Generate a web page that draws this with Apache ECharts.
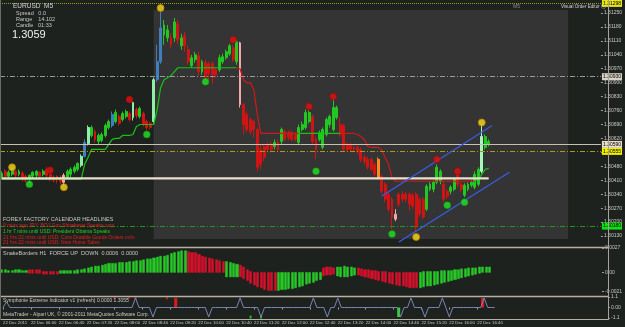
<!DOCTYPE html>
<html>
<head>
<meta charset="utf-8">
<script src="https://cdn.jsdelivr.net/npm/echarts@6/dist/echarts.min.js"></script>
<style>
  html, body { margin: 0; padding: 0; background: #1e221e; }
  #chart { width: 625px; height: 327px; }
</style>
</head>
<body>
<div id="chart"></div>
<script>
// ---- data ----
const timeLabels = ['22 Dec 2011', '22 Dec 06:00', '22 Dec 06:40', '22 Dec 07:20', '22 Dec 08:00', '22 Dec 08:40',
  '22 Dec 09:20', '22 Dec 10:00', '22 Dec 10:40', '22 Dec 11:20', '22 Dec 12:00', '22 Dec 12:40',
  '22 Dec 13:20', '22 Dec 14:00', '22 Dec 14:40', '22 Dec 15:20', '22 Dec 16:00', '22 Dec 16:40']

// [open, close, low, high]
const candles = [
  [1.30425,1.30445,1.30415,1.30455],[1.30455,1.3043,1.3042,1.30465],[1.3043,1.3045,1.3042,1.3046],[1.3044,1.3046,1.3043,1.3047],
  [1.30455,1.30435,1.30425,1.3046],[1.3044,1.30455,1.3043,1.30465],[1.30445,1.30415,1.30405,1.30455],[1.3043,1.3041,1.304,1.3044],
  [1.30415,1.30435,1.30395,1.3044],[1.3043,1.3045,1.3042,1.30455],[1.30435,1.30455,1.30425,1.3046],[1.3045,1.3043,1.3042,1.30455],
  [1.3044,1.30455,1.3043,1.30465],[1.30465,1.30435,1.30425,1.30475],[1.3044,1.30415,1.30405,1.30445],[1.30425,1.3041,1.304,1.30435],
  [1.3043,1.30415,1.30395,1.30435],[1.30425,1.30405,1.3039,1.30435],[1.30435,1.304,1.30385,1.30445],[1.30425,1.30455,1.30415,1.30465],
  [1.3044,1.30465,1.30425,1.30475],[1.30455,1.30475,1.30445,1.30485],[1.30465,1.30495,1.30455,1.305],[1.30485,1.3053,1.30475,1.3054],
  [1.3053,1.306,1.30525,1.30615],[1.30595,1.30675,1.30585,1.30685],[1.30635,1.30675,1.30625,1.30685],[1.30655,1.30615,1.306,1.30665],
  [1.30605,1.30635,1.3059,1.30645],[1.3061,1.3064,1.306,1.3065],[1.30635,1.30685,1.30625,1.30695],[1.30675,1.30705,1.30665,1.30715],
  [1.30685,1.3074,1.30675,1.30755],[1.30705,1.3075,1.30695,1.30765],[1.3073,1.30695,1.30685,1.3074],[1.30715,1.30745,1.30705,1.30755],
  [1.3073,1.30755,1.3072,1.30765],[1.30745,1.30715,1.30705,1.30755],[1.30725,1.308,1.3071,1.30805],[1.30765,1.30735,1.3072,1.30775],
  [1.3073,1.3077,1.3072,1.3078],[1.30745,1.30695,1.3068,1.30755],[1.30705,1.30675,1.3066,1.30715],[1.30695,1.30675,1.30665,1.30705],
  [1.30705,1.30915,1.30695,1.30925],[1.30915,1.31005,1.30905,1.3109],[1.31005,1.31175,1.30995,1.31255],[1.3114,1.3119,1.3109,1.31215],
  [1.31125,1.31165,1.31105,1.3119],[1.31125,1.3109,1.31075,1.3115],[1.31125,1.31205,1.31105,1.31225],[1.31195,1.31115,1.31095,1.31215],
  [1.31085,1.31125,1.31065,1.31145],[1.31135,1.31085,1.31055,1.31155],[1.31065,1.31005,1.3099,1.31085],[1.30985,1.31025,1.30975,1.3104],
  [1.31015,1.3104,1.31,1.31055],[1.31035,1.30955,1.30935,1.31055],[1.30955,1.31005,1.3094,1.31015],[1.31,1.30925,1.30915,1.31015],
  [1.30995,1.30945,1.30915,1.31005],[1.30995,1.3094,1.30895,1.31005],[1.30965,1.3094,1.30925,1.30975],[1.30965,1.31025,1.30955,1.3104],
  [1.31005,1.3103,1.30995,1.31045],[1.31025,1.31055,1.31015,1.31065],[1.31045,1.31085,1.31035,1.31095],[1.31075,1.31015,1.31005,1.3109],
  [1.31005,1.31105,1.3099,1.31115],[1.311,1.3079,1.30775,1.31105],[1.3079,1.3069,1.3064,1.308],[1.3074,1.30665,1.3065,1.30755],
  [1.30715,1.30655,1.3064,1.30725],[1.30705,1.30665,1.30625,1.30715],[1.30665,1.30475,1.30455,1.30675],[1.30565,1.3049,1.30465,1.3059],
  [1.3058,1.30525,1.30505,1.3059],[1.3059,1.30565,1.3055,1.306],[1.3059,1.30565,1.3055,1.30605],[1.3058,1.306,1.30565,1.30615],
  [1.306,1.30565,1.30555,1.30615],[1.30605,1.30665,1.3059,1.30675],[1.30655,1.30615,1.30605,1.30665],[1.3065,1.30625,1.3061,1.3066],
  [1.3065,1.30615,1.30605,1.3066],[1.3064,1.30615,1.30605,1.3065],[1.306,1.30675,1.3059,1.3069],[1.30665,1.3069,1.30655,1.30705],
  [1.30675,1.3075,1.30665,1.30765],[1.30705,1.3075,1.30695,1.3076],[1.3073,1.30605,1.3059,1.3074],[1.30615,1.30565,1.30515,1.3063],
  [1.30615,1.3065,1.30605,1.3066],[1.30575,1.30665,1.30565,1.30675],[1.3064,1.30715,1.3063,1.30725],[1.3069,1.3073,1.30675,1.3074],
  [1.30665,1.30775,1.30655,1.30815],[1.30725,1.30775,1.30715,1.30785],[1.3069,1.3064,1.3063,1.30725],[1.30685,1.30565,1.30555,1.30695],
  [1.3059,1.30565,1.30555,1.306],[1.3059,1.30565,1.3055,1.306],[1.30575,1.30565,1.3055,1.30585],[1.30575,1.30555,1.3054,1.30585],
  [1.30565,1.30515,1.305,1.30575],[1.30525,1.30505,1.3049,1.3054],[1.30515,1.30475,1.30465,1.3053],[1.30515,1.30465,1.30455,1.30525],
  [1.3049,1.3044,1.3043,1.305],[1.30425,1.30515,1.30415,1.30525],[1.3043,1.30355,1.3034,1.3044],[1.3039,1.30315,1.303,1.304],
  [1.3034,1.30265,1.3025,1.30355],[1.30315,1.30225,1.30165,1.30325],[1.30215,1.3024,1.30205,1.30265],[1.3034,1.3029,1.30275,1.3035],
  [1.3034,1.30315,1.303,1.30355],[1.3034,1.30315,1.303,1.3035],[1.3034,1.3029,1.30255,1.3035],[1.30335,1.3028,1.30265,1.30345],
  [1.3034,1.30175,1.30155,1.3035],[1.30315,1.3024,1.30225,1.30325],[1.30315,1.30225,1.30215,1.30325],[1.30265,1.3038,1.30255,1.3039],
  [1.30365,1.3039,1.30355,1.304],[1.30365,1.304,1.3035,1.3041],[1.304,1.30475,1.3039,1.3049],[1.30405,1.30455,1.3039,1.30465],
  [1.3039,1.30315,1.303,1.30405],[1.30355,1.3033,1.30315,1.30365],[1.30355,1.30375,1.3034,1.30385],[1.30365,1.30415,1.30355,1.30425],
  [1.3044,1.3039,1.30375,1.30445],[1.3039,1.30365,1.3035,1.304],[1.30335,1.30385,1.30325,1.30395],[1.30365,1.3039,1.30355,1.304],
  [1.30385,1.304,1.30375,1.3041],[1.30375,1.3044,1.30365,1.30455],[1.3039,1.30465,1.3038,1.30475],[1.30455,1.3063,1.30445,1.3069],
  [1.30575,1.3063,1.30565,1.3064],[1.3059,1.30605,1.3058,1.30615]
]

// trailing stop line under / over the candles
const trail = [
  1.30415,1.30415,1.30415,1.30415,1.30415,1.30415,1.30415,1.30415,1.30415,1.30415,
  1.30415,1.30415,1.30415,1.30415,1.30415,1.30415,1.30415,1.30415,1.30415,1.30415,
  1.30415,1.30415,1.30415,1.30415,1.3049,1.30525,1.30565,1.30565,1.30565,1.30565,
  1.30565,1.3059,1.30615,1.3062,1.3062,1.30635,1.30635,1.30635,1.3064,1.3068,
  1.3069,1.3069,1.3069,1.3069,1.3069,1.30765,1.30875,1.30915,1.30925,1.30935,
  1.30955,1.30975,1.30975,1.30975,1.30975,1.30975,1.30975,1.30975,1.30975,1.30975,
  1.30975,1.30975,1.30975,1.30975,1.30975,1.30975,1.30975,1.30975,1.30975,1.3097,
  1.30915,1.309,1.309,1.30865,1.3074,1.30645,1.30645,1.30645,1.30645,1.30645,
  1.30645,1.30645,1.30645,1.30645,1.30645,1.30645,1.30645,1.30645,1.30645,1.30645,
  1.30645,1.30645,1.30645,1.30645,1.30645,1.30645,1.30645,1.30645,1.30645,1.30645,
  1.30645,1.30645,1.30645,1.3064,1.3063,1.30615,1.3058,1.30575,1.30575,1.30575,
  1.30565,1.30525,1.3049,1.30425,1.30405,1.30405,1.30405,1.30405,1.30405,1.30405,
  1.30405,1.30405,1.30405,1.30405,1.30405,1.30405,1.30405,1.30405,1.30405,1.30405,
  1.30405,1.30405,1.30405,1.30405,1.30405,1.30405,1.30405,1.30405,1.30415,1.3044,
  1.30465,1.3047
]
const trailDownRanges = [[68, 86], [98, 137]]

const dotsYellow = [[3, 1.30475], [18, 1.30375], [46, 1.31275], [120, 1.30125], [139, 1.307]]
const dotsGreen = [[8, 1.3039], [42, 1.3064], [59, 1.30905], [91, 1.30455], [113, 1.3014], [129, 1.30285], [134, 1.303]]
const dotsRed = [[14, 1.3046], [37, 1.30815], [67, 1.31115], [89, 1.3078], [96, 1.3083], [126, 1.30515], [132, 1.30455]]

const channelUpper = [[110, 1.3033], [142, 1.30685]]
const channelLower = [[115, 1.301], [147, 1.3045]]
const supportLine = [[0, 1.3042], [141, 1.3042]]
const sessionBox = [[44, 1.31265], [163.5, 1.30115]]

const levelTop = 1.31298
const levelGray = 1.3093
const levelBid = 1.3059
const levelYellow = 1.30555
const levelGreen = 1.3018
const priceTicks = [1.3125, 1.3118, 1.3111, 1.3104, 1.3097, 1.309, 1.3083, 1.3076, 1.3069,
  1.3062, 1.3055, 1.3048, 1.3041, 1.3034, 1.3027, 1.302, 1.3013]

// SnakeBorders force histogram: each bar spans low..high
const histHigh = [
  0.0003,0.0003,0.0002,0.0002,0.0003,0.0003,0.0002,0.0002,
  0.0003,0.0003,0.0003,0.0003,
  0.0001,0.0001,0.0001,0.0001,0.0001,
  0.0002,0.0002,0.0002,0.0002,0.0002,0.0003,
  0.0003,0.0004,0.0005,0.0006,0.0007,0.0007,0.0008,
  0.0009,0.0010,0.0010,0.0010,0.0011,0.0011,0.0011,0.0012,0.0012,0.0013,0.0013,0.0014,
  0.0015,0.0015,0.0016,0.0017,0.0018,0.0018,0.0019,0.0021,0.0022,0.0023,0.0024,0.0024,
  0.0023,0.0022,0.0022,0.0020,0.0018,0.0017,0.0016,0.0015,0.0014,0.0013,0.0012,
  0.0012,0.0011,0.0010,0.0009,
  0.0008,0.0006,0.0003,0.0001,0,0,0,0,0,0,0,
  0,0,0,0,0,0,0,0,0,0,0,0,0,
  0.0005,0.0006,0.0006,0.0005,
  0.0006,0.0006,0.0007,0.0006,0.0006,0.0005,
  0.0005,0.0004,0.0003,0.0003,0.0002,0.0002,0.0001,0.0001,0.0001,0,0,0,0,0,0,0,0,0,
  0,0.0001,0.0001,0.0001,0.0001,0.0001,0.0002,0.0002,0.0002,0.0002,0.0003,0.0003,
  0.0004,0.0004,0.0005,0.0005,0.0005,0.0006,0.0006,0.0006,0.0006
]
const histLow = [
  0,0,0,0,0,0,0,0,
  -0.0001,-0.0001,-0.0001,-0.0001,
  -0.0002,-0.0002,-0.0002,-0.0002,-0.0002,
  -0.0001,-0.0001,-0.0001,-0.0001,-0.0001,-0.0001,
  0,0,0,0,0,0,0,
  0,0,0,0,0,0,0,0,0,0,0,0,
  0,0,0,0,0,0,0,0,0,0,0,0,
  0,0,0,0,0,0,0,0,0,0,0,
  -0.0005,-0.0005,-0.0005,-0.0005,
  -0.0005,-0.0007,-0.0009,-0.0012,-0.0014,-0.0016,-0.0017,-0.0019,-0.0020,-0.0020,-0.0020,
  -0.0020,-0.0019,-0.0019,-0.0018,-0.0018,-0.0017,-0.0016,-0.0015,-0.0013,-0.0012,-0.0011,-0.0009,-0.0008,
  -0.0004,-0.0003,-0.0003,-0.0002,
  -0.0004,-0.0005,-0.0005,-0.0005,-0.0004,-0.0003,
  -0.0003,-0.0004,-0.0005,-0.0006,-0.0007,-0.0008,-0.0009,-0.0010,-0.0011,-0.0012,-0.0013,-0.0014,
  -0.0015,-0.0015,-0.0016,-0.0017,-0.0017,-0.0017,
  -0.0017,-0.0016,-0.0015,-0.0015,-0.0014,-0.0013,-0.0012,-0.0011,-0.0010,-0.0009,-0.0008,-0.0007,
  -0.0006,-0.0005,-0.0004,-0.0003,-0.0002,-0.0001,0,0,0
]
const histDownRanges = [[8, 16], [54, 64], [69, 79], [93, 96], [103, 120]]
const histTicks = [0.0027, 0, -0.0021]

// Symphonie Extreme oscillator
const extreme = [
  0,0.6,0,0,0,0,0,0,0,0, 0,0,0,0,0,0,0,0,0,0, 0,0,0,0,0,0,0,0,0,0,
  0,0,0,0,0,0,0,0,1,0, 0,0,0,-1,0,0,0,0,0,0, 0,0,0,0,0,0,0,0,0,-1,
  0,0,0,0,0,0,0,0,1,0, 0,0,0,0,-1,0,0,0,0,0, 0,0,0,0,0,0,0,0,0,1,
  0,0,0,-1,0,0,1,0,0,0, 0,0,0,0,0,0,0,0,0,0, 0,0,0,0,-1,0,0,1,0,0,
  0,-1,0,0,0,0,1,0,-1,0, 0,0,0,0,0,0,0,0,1,0, 0,0
]
const extremeSellBars = [[50, 1], [138, 1]]
const extremeBuyBars = [[113, -1]]
const extremeSellMarks = [[32, 1], [36, 1], [38, 1], [47, 1]]
const extremeBuyMarks = [[71, -1], [74, -1]]
const extremeTicks = [1.1, 0, -1.1]

// ---- build ----
const SLOTS = 174
const slots = Array.from({ length: SLOTS }, (_, i) => String(i))
const BULL = '#22c722', BEAR = '#d01414'
const accent = {
  23: '#8ef0a8', 25: '#8ef0a8', 38: '#8ef0a8', 44: '#8ef0a8', 139: '#a6f7bb',
  24: '#3f7fc0', 32: '#3f7fc0', 45: '#3f7fc0', 46: '#3f7fc0',
  18: '#f4a6a6', 69: '#f4a6a6', 114: '#f4a6a6', 109: '#ff8a1a'
}
const inRanges = (i, ranges) => ranges.some(([a, b]) => i >= a && i <= b)

const candleData = candles.map((c, i) => accent[i]
  ? { value: c, itemStyle: { color: accent[i], color0: accent[i], borderColor: accent[i], borderColor0: accent[i] } }
  : c)
const trailUp = trail.map((v, i) => inRanges(i, trailDownRanges) && !trailDownRanges.some(([a, b]) => i === a || i === b) ? null : v)
const trailDown = trail.map((v, i) => inRanges(i, trailDownRanges) ? v : null)
const histData = histHigh.map((h, i) => {
  const lo = histLow[i]
  return inRanges(i, histDownRanges) ? [h, lo, lo, h] : [lo, h, lo, h]
})

const FONT = 'Liberation Sans, Arial'
const labelFont = { fontSize: 5, fontFamily: FONT, color: '#c8c8c8' }
const showTime = (idx) => idx % 8 === 0 && idx / 8 < timeLabels.length
const fmt5 = (v) => v.toFixed(5)

function levelLine(value, color, type, bg, fg) {
  return {
    yAxis: value,
    lineStyle: { color, type, width: 1 },
    label: { show: true, position: 'end', formatter: fmt5(value), backgroundColor: bg, color: fg,
      fontSize: 5, fontFamily: FONT, padding: [1, 1], distance: 1 }
  }
}

const chart = echarts.init(document.getElementById('chart'), null, { renderer: 'canvas' })

const option = {
  animation: false,
  backgroundColor: '#1e221e',
  grid: [
    { left: 0, right: 17, top: 3, height: 243 },
    { left: 0, right: 17, top: 248, height: 47 },
    { left: 0, right: 17, top: 297, height: 21 }
  ],
  xAxis: [0, 1, 2].map(g => ({
    type: 'category', gridIndex: g, data: slots, boundaryGap: true,
    axisLine: { show: false },
    axisTick: g === 2 ? { show: true, interval: showTime, alignWithLabel: true, length: 2, lineStyle: { color: '#a8a29a' } } : { show: false },
    axisLabel: g === 2 ? { show: true, interval: showTime, formatter: (v) => timeLabels[Number(v) / 8] || '',
      align: 'left', margin: 3, fontSize: 4.3, fontFamily: FONT, color: '#c8c8c8' } : { show: false },
    splitLine: { show: false }
  })),
  yAxis: [
    { type: 'value', gridIndex: 0, position: 'right', min: 1.3008, max: 1.313,
      axisLine: { show: false }, splitLine: { show: false },
      axisTick: { show: true, customValues: priceTicks, length: 2, lineStyle: { color: '#a8a29a' } },
      axisLabel: { customValues: priceTicks, formatter: fmt5, margin: 3, ...labelFont } },
    { type: 'value', gridIndex: 1, position: 'right', min: -0.0025, max: 0.0027,
      axisLine: { show: false }, splitLine: { show: false },
      axisTick: { show: true, customValues: histTicks, length: 2, lineStyle: { color: '#a8a29a' } },
      axisLabel: { customValues: histTicks, formatter: (v) => v === 0 ? '0.00' : v.toFixed(4), margin: 3, ...labelFont } },
    { type: 'value', gridIndex: 2, position: 'right', min: -1.1, max: 1.1,
      axisLine: { show: false }, splitLine: { show: false },
      axisTick: { show: true, customValues: extremeTicks, length: 2, lineStyle: { color: '#a8a29a' } },
      axisLabel: { customValues: extremeTicks, formatter: (v) => v === 0 ? '0.00' : v.toFixed(1), margin: 3, ...labelFont } }
  ],
  series: [
    {
      name: 'session', type: 'line', xAxisIndex: 0, yAxisIndex: 0, data: [], z: 0, silent: true,
      markArea: {
        silent: true,
        itemStyle: { color: '#343434' },
        data: [[{ xAxis: sessionBox[0][0], yAxis: sessionBox[0][1] }, { xAxis: sessionBox[1][0], yAxis: sessionBox[1][1] }]]
      }
    },
    {
      name: 'price', type: 'candlestick', xAxisIndex: 0, yAxisIndex: 0, data: candleData, barWidth: 2.4, z: 3,
      itemStyle: { color: BULL, color0: BEAR, borderColor: BULL, borderColor0: BEAR, borderWidth: 1 },
      markLine: {
        silent: true, symbol: 'none', precision: 5,
        data: [
          levelLine(levelTop, '#9a9a22', 'dotted', '#e6e61e', '#000'),
          levelLine(levelGray, '#9a9a9a', [5, 2, 1, 2], '#d8d2c4', '#000'),
          levelLine(levelBid, '#c8c0b0', 'solid', '#e8dfc8', '#000'),
          levelLine(levelYellow, '#a89a14', [5, 2, 1, 2], '#f0f000', '#000'),
          levelLine(levelGreen, '#1c9a1c', [5, 2, 1, 2], '#10e010', '#000')
        ]
      }
    },
    { name: 'trailUp', type: 'line', xAxisIndex: 0, yAxisIndex: 0, data: trailUp, symbol: 'none', z: 4,
      lineStyle: { color: '#18c018', width: 1.2 } },
    { name: 'trailDown', type: 'line', xAxisIndex: 0, yAxisIndex: 0, data: trailDown, symbol: 'none', z: 4,
      lineStyle: { color: '#d01818', width: 1.2 } },
    { name: 'support', type: 'line', xAxisIndex: 0, yAxisIndex: 0, data: supportLine, symbol: 'none', z: 5,
      lineStyle: { color: '#e8dfcc', width: 2.2 } },
    { name: 'chUp', type: 'line', xAxisIndex: 0, yAxisIndex: 0, data: channelUpper, symbol: 'none', z: 5,
      lineStyle: { color: '#3a5ee8', width: 1.2 } },
    { name: 'chLo', type: 'line', xAxisIndex: 0, yAxisIndex: 0, data: channelLower, symbol: 'none', z: 5,
      lineStyle: { color: '#3a5ee8', width: 1.2 } },
    { name: 'yellowDots', type: 'scatter', xAxisIndex: 0, yAxisIndex: 0, data: dotsYellow, symbolSize: 7, z: 6,
      itemStyle: { color: '#f2e21a', borderColor: '#c87c00', borderWidth: 1 } },
    { name: 'greenDots', type: 'scatter', xAxisIndex: 0, yAxisIndex: 0, data: dotsGreen, symbolSize: 7, z: 6,
      itemStyle: { color: '#22e622', borderColor: '#0a8a0a', borderWidth: 0.5 } },
    { name: 'redDots', type: 'scatter', xAxisIndex: 0, yAxisIndex: 0, data: dotsRed, symbolSize: 7, z: 6,
      itemStyle: { color: '#e01010', borderColor: '#900000', borderWidth: 0.5 } },
    {
      name: 'force', type: 'candlestick', xAxisIndex: 1, yAxisIndex: 1, data: histData, barWidth: 2.6,
      itemStyle: { color: '#26c926', color0: '#d4102a', borderColor: '#26c926', borderColor0: '#d4102a', borderWidth: 0.5 }
    },
    { name: 'extreme', type: 'line', xAxisIndex: 2, yAxisIndex: 2, data: extreme, symbol: 'none',
      lineStyle: { color: '#7a84b4', width: 1 } },
    { name: 'sellBars', type: 'bar', xAxisIndex: 2, yAxisIndex: 2, data: extremeSellBars, barWidth: 3,
      itemStyle: { color: '#e01818' } },
    { name: 'buyBars', type: 'bar', xAxisIndex: 2, yAxisIndex: 2, data: extremeBuyBars, barWidth: 3,
      itemStyle: { color: '#22e022' } },
    { name: 'sellMarks', type: 'scatter', xAxisIndex: 2, yAxisIndex: 2, data: extremeSellMarks, symbol: 'rect',
      symbolSize: [2, 3], itemStyle: { color: '#e01818' } },
    { name: 'buyMarks', type: 'scatter', xAxisIndex: 2, yAxisIndex: 2, data: extremeBuyMarks, symbol: 'rect',
      symbolSize: [2, 3], itemStyle: { color: '#22e022' } }
  ],
  graphic: [
    // pane borders
    { type: 'line', shape: { x1: 608.5, y1: 0, x2: 608.5, y2: 320 }, style: { stroke: '#a8a29a', lineWidth: 1 }, z: 100 },
    { type: 'line', shape: { x1: 0, y1: 247.5, x2: 608, y2: 247.5 }, style: { stroke: '#b8b0a2', lineWidth: 1.5 }, z: 100 },
    { type: 'line', shape: { x1: 0, y1: 296.5, x2: 608, y2: 296.5 }, style: { stroke: '#b8b0a2', lineWidth: 1.5 }, z: 100 },
    { type: 'line', shape: { x1: 0, y1: 319.5, x2: 608, y2: 319.5 }, style: { stroke: '#b8b0a2', lineWidth: 1 }, z: 100 },
    { type: 'line', shape: { x1: 0.5, y1: 0, x2: 0.5, y2: 320 }, style: { stroke: '#6e6a64', lineWidth: 1 }, z: 100 },
    // info block
    { type: 'text', x: 13, y: 3, z: 100, style: { text: 'EURUSD  M5', fill: '#d4d4d4', fontSize: 6.5, fontFamily: FONT } },
    { type: 'text', x: 16, y: 10.5, z: 100, style: { text: 'Spread   0.0', fill: '#c8c8c8', fontSize: 5.5, fontFamily: FONT } },
    { type: 'text', x: 16, y: 16.5, z: 100, style: { text: 'Range    14.102', fill: '#c8c8c8', fontSize: 5.5, fontFamily: FONT } },
    { type: 'text', x: 16, y: 22.5, z: 100, style: { text: 'Candle   01:33', fill: '#c8c8c8', fontSize: 5.5, fontFamily: FONT } },
    { type: 'text', x: 12, y: 29, z: 100, style: { text: '1.3059', fill: '#f0f0f0', fontSize: 11, fontFamily: FONT } },
    { type: 'text', x: 513, y: 4, z: 100, style: { text: 'M5', fill: '#8c8c8c', fontSize: 5, fontFamily: FONT } },
    { type: 'text', x: 561, y: 4.5, z: 100, style: { text: 'Visual Order Editor ⓘ', fill: '#d0d0d0', fontSize: 4.6, fontFamily: FONT } },
    // calendar headlines
    { type: 'text', x: 3, y: 216.5, z: 100, style: { text: 'FOREX FACTORY CALENDAR HEADLINES', fill: '#c8c8c8', fontSize: 5.5, fontFamily: FONT } },
    { type: 'text', x: 3, y: 223, z: 100, style: { text: '9 mins ago JPY: BOJ Gov Shirakawa Speaks.com', fill: '#e02020', fontSize: 5, fontFamily: FONT } },
    { type: 'text', x: 3, y: 229, z: 100, style: { text: '1 hr 7 mins until USD: President Obama Speaks', fill: '#22d022', fontSize: 5, fontFamily: FONT } },
    { type: 'text', x: 3, y: 235, z: 100, style: { text: '21 hrs 22 mins until USD: Core Durable Goods Orders m/m', fill: '#e02020', fontSize: 5, fontFamily: FONT } },
    { type: 'text', x: 3, y: 240.5, z: 100, style: { text: '21 hrs 22 mins until USD: New Home Sales', fill: '#e02020', fontSize: 5, fontFamily: FONT } },
    // indicator captions
    { type: 'text', x: 3, y: 250, z: 100, style: { text: 'SnakeBorders H1  FORCE UP  DOWN  0.0006  0.0000', fill: '#c8c8c8', fontSize: 5.5, fontFamily: FONT } },
    { type: 'text', x: 3, y: 298, z: 100, style: { text: 'Symphonie Extreme Indicator v1 (refresh) 0.0000 1.3055', fill: '#c8c8c8', fontSize: 5, fontFamily: FONT } },
    { type: 'text', x: 3, y: 312, z: 100, style: { text: 'MetaTrader - Alpari UK, © 2001-2011 MetaQuotes Software Corp.', fill: '#c8c8c8', fontSize: 5, fontFamily: FONT } }
  ]
}

chart.setOption(option)
</script>
</body>
</html>
